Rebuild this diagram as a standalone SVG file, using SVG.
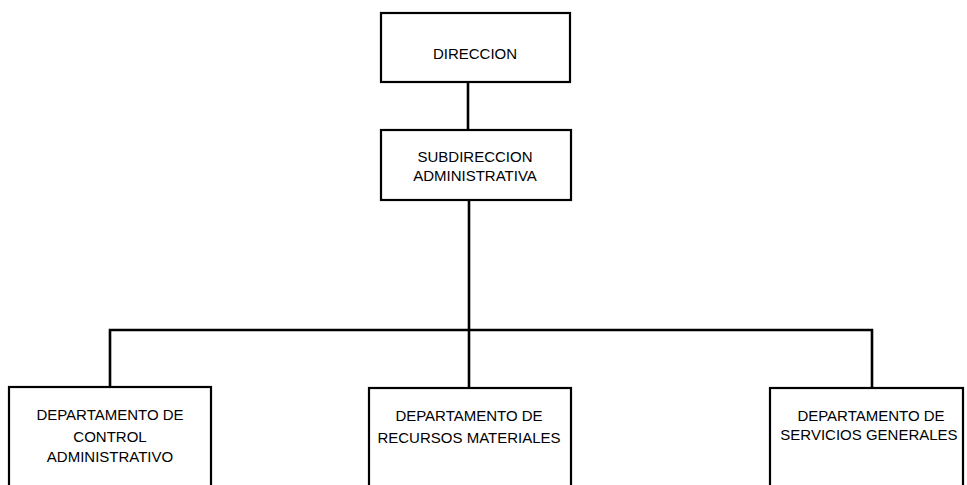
<svg xmlns="http://www.w3.org/2000/svg" width="967" height="485" viewBox="0 0 967 485">
<style>
.box{fill:#fff;stroke:#000;stroke-width:2.2}
.ln{fill:none;stroke:#000;stroke-width:2.6}
text{font-family:"Liberation Sans",Arial,sans-serif;font-size:15px;fill:#000;text-anchor:middle}
</style>
<rect width="967" height="485" fill="#fff"/>
<g id="connectors">
<line class="ln" x1="468" y1="82" x2="468" y2="130"/>
<line class="ln" x1="469" y1="200" x2="469" y2="388"/>
<polyline class="ln" points="110,387 110,330 872,330 872,388"/>
</g>
<g id="direccion">
<rect class="box" x="381" y="13" width="189" height="69"/>
<text x="475" y="59">DIRECCION</text>
</g>
<g id="subdireccion">
<rect class="box" x="381" y="130" width="190" height="70"/>
<text x="475" y="162">SUBDIRECCION</text>
<text x="475" y="181">ADMINISTRATIVA</text>
</g>
<g id="control">
<rect class="box" x="9" y="387" width="202" height="120"/>
<text x="110" y="420">DEPARTAMENTO DE</text>
<text x="110" y="442">CONTROL</text>
<text x="110" y="462">ADMINISTRATIVO</text>
</g>
<g id="recursos">
<rect class="box" x="369" y="388" width="202" height="120"/>
<text x="469" y="421">DEPARTAMENTO DE</text>
<text x="469" y="443">RECURSOS MATERIALES</text>
</g>
<g id="servicios">
<rect class="box" x="770" y="388" width="193" height="120"/>
<text x="871" y="421">DEPARTAMENTO DE</text>
<text x="869" y="440">SERVICIOS GENERALES</text>
</g>
</svg>
